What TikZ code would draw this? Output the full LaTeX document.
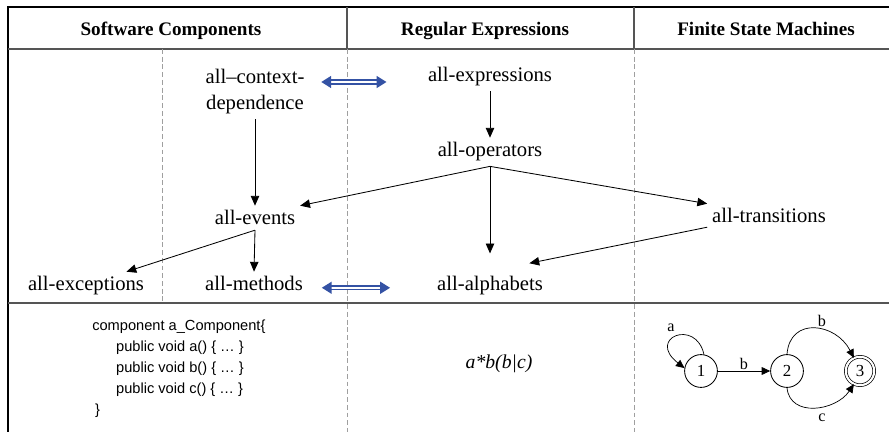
\documentclass[tikz,border=0pt]{standalone}
\usepackage{fontspec}
\setmainfont{Liberation Serif}
\setsansfont{Liberation Sans}
\usetikzlibrary{arrows.meta}
\definecolor{linkblue}{RGB}{52,82,164}
\definecolor{rulegray}{RGB}{85,85,85}
\begin{document}
\begin{tikzpicture}[x=0.025cm, y=-0.025cm,
        hdr/.style={font=\fontsize{13.6}{16}\selectfont\bfseries, anchor=base},
        lbl/.style={font=\fontsize{14.7}{19}\selectfont, align=center, anchor=base},
        flow/.style={line width=0.6pt, -{Triangle[length=7pt, width=6pt]}},
        link/.style={draw=linkblue, double, double distance=1.6pt, line width=1pt,
            {Triangle[length=7pt, width=8.5pt]}-{Triangle[length=7pt, width=8.5pt]}},
        sep/.style={draw=gray!75, line width=0.7pt, dash pattern=on 3.5pt off 2pt},
        rule/.style={draw=rulegray, line width=1.3pt},
        code/.style={font=\sffamily\fontsize{10.4}{14.9}\selectfont, align=left, inner sep=0pt},
        fsmstate/.style={draw, circle, line width=0.6pt, minimum size=0.82cm, inner sep=0pt,
            font=\fontsize{12}{14}\selectfont},
        fsmedge/.style={line width=0.5pt, -{Triangle[length=6pt, width=5.5pt]}},
        fsmlbl/.style={font=\fontsize{11.5}{13}\selectfont, inner sep=1pt}]
                        \useasboundingbox (0,0) rectangle (889,432);

                        % Table frame
                        \draw [line width=0.9pt] (889,7) -- (8,7) -- (8,432);%
                        \draw [rule] (8,49) -- (889,49);%
                        \draw [rule] (8,303) -- (889,303);%
                        \draw [rule] (347,7) -- (347,49);%
                        \draw [rule] (634,7) -- (634,49);%

                        % Dashed column separators
                        \draw [sep] (162,49) -- (162,303);%
                        \draw [sep] (347,49) -- (347,432);%
                        \draw [sep] (634,49) -- (634,432);%

                        % Column headers
                        \node [hdr] (hsc) at (171,36) {Software Components};%
                        \node [hdr] (hre) at (485,36) {Regular Expressions};%
                        \node [hdr] (hfsm) at (766,36) {Finite State Machines};%

                        % Marking coverage criteria
                        \node [lbl] (ctx) at (255,110) {all–context-\\dependence};%
                        \node [lbl] (expr) at (490,82) {all-expressions};%
                        \node [lbl] (ops) at (490,157) {all-operators};%
                        \node [lbl] (events) at (255,225) {all-events};%
                        \node [lbl] (trans) at (769,223) {all-transitions};%
                        \node [lbl] (exc) at (86,291) {all-exceptions};%
                        \node [lbl] (meth) at (254,291) {all-methods};%
                        \node [lbl] (alph) at (490,291) {all-alphabets};%

                        % Drawing subsumption arrows
                        \draw [flow] (ctx.south) -- (events.north);%
                        \draw [flow] (expr.south) -- (ops.north);%
                        \draw [flow] (ops.south) -- (events.north east);%
                        \draw [flow] (ops.south) -- ([yshift=13pt]alph.north);%
                        \draw [flow] (ops.south) -- (trans.north west);%
                        \draw [flow] ([yshift=-3pt]trans.base west) -- ([xshift=28pt, yshift=6pt]alph.north);%
                        \draw [flow] (events.south) -- (meth.north);%
                        \draw [flow] (events.south) -- ([xshift=-16pt]exc.north east);%

                        % Drawing correspondences
                        \draw [link, shorten <=8.5pt, shorten >=26pt] (ctx.east |- expr.base) -- (expr.base west);%
                        \draw [link, shorten <=10pt, shorten >=30pt] (meth.mid east) -- (alph.mid west);%

                        % Example component
                        \node [code, anchor=north west] (comp) at (92,320) {component a\_Component\{\\
                            \hspace*{17pt}public void a() \{ … \}\\
                            \hspace*{17pt}public void b() \{ … \}\\
                            \hspace*{17pt}public void c() \{ … \}\\
                            \hspace*{2pt}\}};%

                        % Example expression
                        \node [font=\fontsize{14}{16}\selectfont\itshape] (regex) at (499,364) {a*b(b|c)};%

                        % Example automaton
                        \node [fsmstate] (s1) at (701,371) {1};%
                        \node [fsmstate] (s2) at (787,371) {2};%
                        \node [fsmstate, minimum size=0.71cm, double, double distance=1.5pt, line width=0.5pt] (s3) at (860,371) {3};%
                        \draw [fsmedge] (s1.80) .. controls (696,318) and (646,338) .. (s1.170);%
                        \node [fsmlbl] (la) at (671,328) {a};%
                        \draw [fsmedge] (s1) -- node [fsmlbl, above] (lb1) {b} (s2);%
                        \draw [fsmedge] (s2.north) .. controls (790,316) and (836,323) .. (s3.115);%
                        \node [fsmlbl] (lb2) at (822,321) {b};%
                        \draw [fsmedge] (s2.south) .. controls (790,418) and (836,411) .. (s3.245);%
                        \node [fsmlbl] (lc) at (822,418) {c};%
\end{tikzpicture}
\end{document}
